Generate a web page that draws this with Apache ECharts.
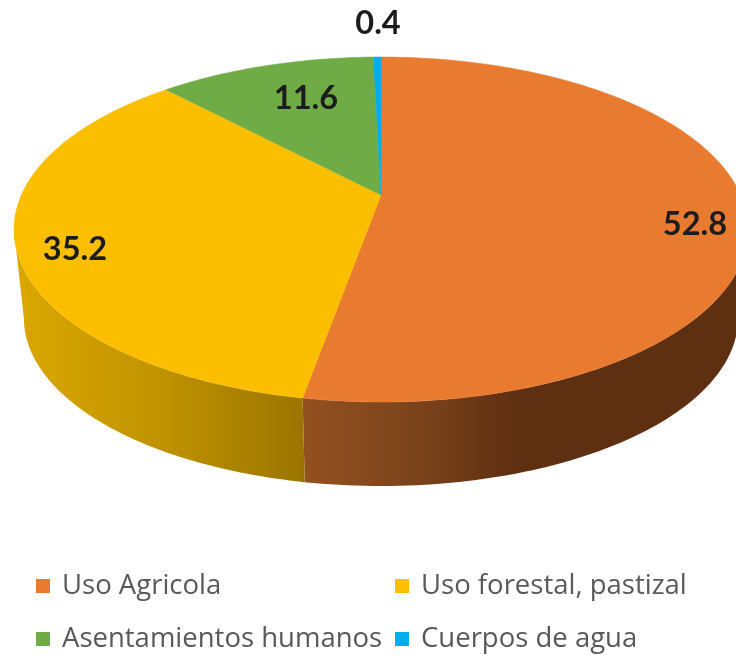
<!DOCTYPE html>
<html><head><meta charset="utf-8">
<style>html,body{margin:0;padding:0;background:#fff}#c{width:736px;height:655px;filter:blur(0.6px)}</style>
<script src="https://cdn.jsdelivr.net/npm/echarts@6/dist/echarts.min.js"></script>
</head><body><div id="c"></div>
<script>
const categories = ['Uso Agricola', 'Uso forestal, pastizal', 'Asentamientos humanos', 'Cuerpos de agua'];
const values = [52.8, 35.2, 11.6, 0.4];
const colors = ['#E97B30', '#FBBF00', '#6FAC46', '#00AEEF'];

const apex = { x: 381, y: 195 };
const P = { a: 359.6, b: 165.6, k: 0.2, depth: 89.6, shrink: 0.973 };
const labelAt = [[695, 225], [75, 250], [306, 99], [378, 24]];
const wallStops = [
  [[0, '#935020'], [0.55, '#7a431b'], [1, '#5f2f11']],
  [[0, '#dba800'], [0.5, '#c09300'], [1, '#9a7400']],
  [[0, '#4f7a32'], [1, '#4f7a32']],
  [[0, '#007fad'], [1, '#007fad']]
];
const wallRange = [[306, 515], [15, 306], [160, 380], [370, 385]];

const total = values.reduce((s, v) => s + v, 0);
// Silhouette angles: where the projected rim reaches its widest x
const frontStart = Math.acos(-P.k), frontEnd = 2 * Math.PI - frontStart;
function rimPoint(theta) {
  const u = Math.sin(theta), v = Math.cos(theta), w = 1 + P.k * v;
  return [P.a * u / w, -P.b * v / w];
}
function sliceAngles(i) {
  let before = 0;
  for (let j = 0; j < i; j++) before += values[j];
  return [before / total * 2 * Math.PI, (before + values[i]) / total * 2 * Math.PI];
}
function arc(t0, t1) {
  const n = Math.max(4, Math.ceil((t1 - t0) / 0.02));
  const pts = [];
  for (let s = 0; s <= n; s++) pts.push(rimPoint(t0 + (t1 - t0) * s / n));
  return pts;
}
const topSeries = categories.map((name, i) => ({
  type: 'custom', name, coordinateSystem: 'none', z: 3, silent: true,
  itemStyle: { color: colors[i] },
  data: [values[i]],
  renderItem: () => {
    const [t0, t1] = sliceAngles(i);
    const pts = arc(t0, t1).map(p => [apex.x + p[0], apex.y + p[1]]);
    return {
      type: 'group', children: [
        { type: 'polygon', shape: { points: [[apex.x, apex.y], ...pts] }, style: { fill: colors[i], stroke: colors[i], lineWidth: 0.5 } },
        { type: 'text', z2: 20, style: { text: String(values[i]), x: labelAt[i][0], y: labelAt[i][1], align: 'center', verticalAlign: 'middle', fill: '#1c1c1c', font: 'bold 32.5px Lato' } }
      ]
    };
  }
}));
const wallSeries = categories.map((name, i) => ({
  type: 'custom', name: name + ' (lado)', coordinateSystem: 'none', z: 1, silent: true,
  data: [values[i]],
  renderItem: () => {
    const [t0, t1] = sliceAngles(i);
    const a0 = Math.max(t0, frontStart), a1 = Math.min(t1, frontEnd);
    if (a1 <= a0) return { type: 'group', children: [] };
    const pts = arc(a0, a1);
    const up = pts.map(p => [apex.x + p[0], apex.y + p[1]]);
    const low = pts.map(p => [apex.x + p[0] * P.shrink, apex.y + P.depth + p[1] * P.shrink]).reverse();
    return {
      type: 'polygon', shape: { points: up.concat(low) },
      style: {
        fill: new echarts.graphic.LinearGradient(wallRange[i][0], 0, wallRange[i][1], 0,
          wallStops[i].map(s => ({ offset: s[0], color: s[1] })), true)
      }
    };
  }
}));
const legendBase = {
  orient: 'vertical', icon: 'rect', itemWidth: 14, itemHeight: 14, itemGap: 25,
  selectedMode: false, top: 572, padding: 0,
  textStyle: { fontFamily: 'Open Sans', fontSize: 27.5, color: '#595959', padding: [0, 0, 0, 7] }
};
const chart = echarts.init(document.getElementById('c'), null, { renderer: 'canvas' });
chart.setOption({
  animation: false, tooltip: { show: false },
  legend: [
    { ...legendBase, left: 36, data: [categories[0], categories[2]] },
    { ...legendBase, left: 395, data: [categories[1], categories[3]] }
  ],
  series: wallSeries.concat(topSeries)
});
</script></body></html>
